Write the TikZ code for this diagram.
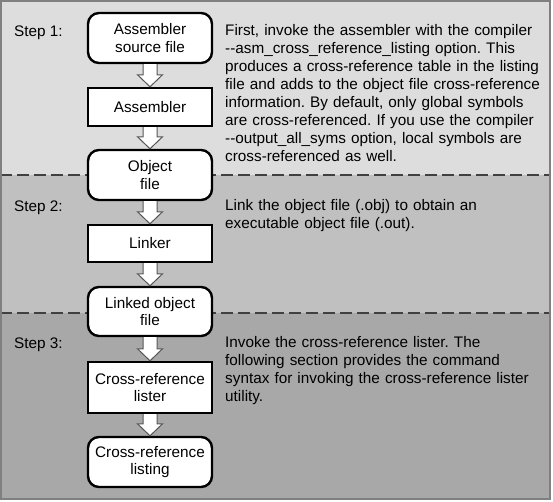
\documentclass[tikz,border=0pt]{standalone}
\usepackage{fontspec}
\setmainfont{Liberation Sans}
\usetikzlibrary{calc}
\frenchspacing
\definecolor{bandA}{HTML}{DDDDDD}
\definecolor{bandB}{HTML}{C0C0C0}
\definecolor{bandC}{HTML}{A8A8A8}
\definecolor{frame}{HTML}{808080}
\definecolor{dashc}{HTML}{404040}
\definecolor{arrowc}{HTML}{555555}
\newcommand\dd{{-}{-}}
\tikzset{
  roundbox/.style={draw=black, line width=2.4pt, fill=white, rounded corners=11pt,
    minimum width=124pt, inner sep=0pt, align=center, font=\fontsize{15.3}{17.5}\selectfont},
  rectbox/.style={roundbox, rounded corners=0pt},
  steplabel/.style={anchor=west, inner sep=0pt, font=\fontsize{15.3}{18}\selectfont},
  desc/.style={anchor=north west, inner sep=0pt, align=left, text width=330pt,
    font=\fontsize{15.3}{18.1}\selectfont},
  bandline/.style={dashc, line width=1.5pt, dash pattern=on 12pt off 5pt},
  blockarrow/.style={draw=arrowc, line width=1pt, fill=white, line join=miter},
}
\newcommand\flowarrow[2]{%
  \draw[blockarrow] ($(#1.south)+(-7,0)$) -- ($(#2.north)+(-7,-12)$) -- ($(#2.north)+(-12.5,-12)$)
    -- (#2.north) -- ($(#2.north)+(12.5,-12)$) -- ($(#2.north)+(7,-12)$) -- ($(#1.south)+(7,0)$);}
\begin{document}
\begin{tikzpicture}[x=1pt,y=-1pt]
\useasboundingbox (0,0) rectangle (553,501);
\fill[bandA] (0,0) rectangle (550,175);
\fill[bandB] (0,175) rectangle (550,313);
\fill[bandC] (0,313) rectangle (550,499);
\coordinate (l1a) at (0,175); \coordinate (l1b) at (550,175);
\coordinate (l2a) at (0,313); \coordinate (l2b) at (550,313);
\draw[bandline] (l1a) -- (l1b);
\draw[bandline] (l2a) -- (l2b);
\draw[frame, line width=2pt] (1,1) rectangle (550,499);

\node[roundbox, minimum height=50pt] (src) at (150,38) {Assembler\\source file};
\node[rectbox, minimum height=38pt] (asm) at (150,107) {Assembler};
\node[roundbox, minimum height=50pt] (obj) at (150,175) {Object\\file};
\node[rectbox, minimum height=37pt] (lnk) at (150,243.5) {Linker};
\node[roundbox, minimum height=49pt] (lobj) at (150,311.5) {Linked object\\file};
\node[rectbox, minimum height=51pt] (xl) at (150,387.5) {Cross-reference\\lister};
\node[roundbox, minimum height=50pt] (xlist) at (150,462) {Cross-reference\\listing};

\flowarrow{src}{asm}
\flowarrow{asm}{obj}
\flowarrow{obj}{lnk}
\flowarrow{lnk}{lobj}
\flowarrow{lobj}{xl}
\flowarrow{xl}{xlist}

\node[steplabel] (s1) at (14,33) {Step 1:};
\node[steplabel] (s2) at (14,208) {Step 2:};
\node[steplabel] (s3) at (14,345) {Step 3:};

\node[desc] (d1) at (225,24) {First, invoke the assembler with the compiler\\
\dd asm\_cross\_reference\_listing option. This\\
produces a cross-reference table in the listing\\
file and adds to the object file cross-reference\\
information. By default, only global symbols\\
are cross-referenced. If you use the compiler\\
\dd output\_all\_syms option, local symbols are\\
cross-referenced as well.};
\node[desc] (d2) at (225,199) {Link the object file (.obj) to obtain an\\
executable object file (.out).};
\node[desc] (d3) at (225,336) {Invoke the cross-reference lister. The\\
following section provides the command\\
syntax for invoking the cross-reference lister\\
utility.};
\end{tikzpicture}
\end{document}
